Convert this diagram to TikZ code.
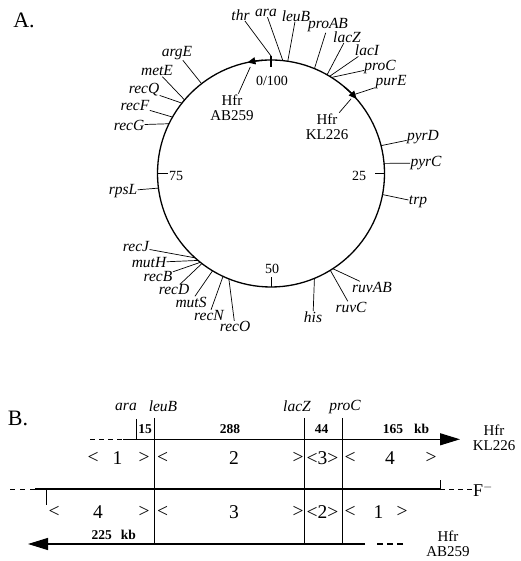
\documentclass[tikz,border=0pt]{standalone}
\usepackage{fontspec}
\setmainfont{Liberation Serif}
\usetikzlibrary{arrows.meta,calc,positioning}
\tikzset{
  gene/.style={font=\fontsize{15.5}{18}\selectfont\itshape,inner sep=0.3pt},
  leader/.style={line width=0.7pt},
  mapnum/.style={font=\fontsize{14}{16}\selectfont,inner sep=1pt},
  hfr/.style={font=\fontsize{15}{15.5}\selectfont,align=center,inner sep=1pt},
  seg/.style={font=\fontsize{19.5}{21}\selectfont,inner sep=0pt},
  kbnum/.style={font=\fontsize{13.5}{14}\selectfont\bfseries,inner sep=1pt},
  panel/.style={font=\fontsize{22}{24}\selectfont,inner sep=0pt},
  strand/.style={line width=1.2pt},
  marker/.style={line width=1.3pt,-{Triangle[length=8pt,width=7pt]}}
}

\begin{document}
\begin{tikzpicture}[x=1pt,y=1pt,>=Latex]
  \useasboundingbox (0,0) rectangle (520,561);
  \def\R{113.5}
  % A: circular map
  \node[panel] (labA) at (24,541) {A.};
  \coordinate (C) at (271,387.5);
  \draw[line width=1.3pt] (C) circle[radius=\R];
  \coordinate (t0in) at ($(C)+(90:\R-7)$);
  \coordinate (t0out) at ($(C)+(90:\R+4)$);
  \draw[line width=2pt] (t0in) -- (t0out);
  \node[mapnum] (n0) at (272,480) {0/100};
  \node[gene] (thr) at (240.5,546) {thr};
  \draw[leader] (thr) -- (t0out);
  \foreach \t/\a/\x/\y in {25/0/359/385,50/-90/272/292,75/180/176/385}{
    \coordinate (t\t) at ($(C)+(\a:\R)$);
    \coordinate (u\t) at ($(C)+(\a:\R-10)$);
    \draw[leader] (t\t) -- (u\t);
    \node[mapnum] (n\t) at (\x,\y) {\t};
  }
  \foreach \g/\a/\x/\y in {ara/84/266/548,leuB/81.5/296/545,proAB/67.5/328/535.5,
      lacZ/60.4/347/524,lacI/58.9/367/510.5,proC/57.8/380/494,purE/43.8/391/478.5,
      pyrD/14.2/423/424,pyrC/5.1/426/398,trp/-10.7/418/359,ruvAB/-57/372/274,
      ruvC/-58.5/351/254,his/-67.5/313/244,recO/-111.8/235/234.5,recN/-115/209/245.5,
      mutS/-121/191/259,recD/-127.5/174/271,recB/-128.5/158/284,mutH/-130/149/298.5,
      recJ/-132/136/314,rpsL/187.4/123/370,recG/154/129/436,recF/150.2/135/455,
      recQ/141.7/144/471,metE/139.6/157/490,argE/127.7/177/508}{
    \coordinate (c-\g) at ($(C)+(\a:\R)$);
    \node[gene] (\g) at (\x,\y) {\g};
    \draw[leader] (c-\g) -- (\g);
  }
  % Hfr origins
  \draw[marker] ($(C)+(94:\R)$) arc[start angle=94,end angle=102,radius=\R];
  \draw[marker] ($(C)+(50:\R)$) arc[start angle=50,end angle=41,radius=\R];
  \coordinate (pAB) at ($(C)+(101:\R-5)$);
  \coordinate (pKL) at ($(C)+(43:\R-4)$);
  \node[hfr] (hfrAB) at (232,453) {Hfr\\AB259};
  \node[hfr] (hfrKL) at (327,434) {Hfr\\KL226};
  \draw[leader] (hfrAB) -- (pAB);
  \draw[leader] (hfrKL) -- (pKL);

  % B: transfer order
  \node[panel] (labB) at (18,143) {B.};
  \node[gene] (bara) at (126,154.3) {ara};
  \node[gene] (bleuB) at (163,154.3) {leuB};
  \node[gene] (blacZ) at (297,154.3) {lacZ};
  \node[gene] (bproC) at (345,154.3) {proC};
  \coordinate (kl0) at (90,121.7);
  \coordinate (kl1) at (123,121.7);
  \coordinate (kl2) at (460,121.7);
  \draw[strand,dash pattern=on 5pt off 4pt] (kl0) -- (kl1);
  \draw[strand,-{Triangle[length=20pt,width=12pt]}] (kl1) -- (kl2);
  \node[hfr] (hfrKLb) at (494,123) {Hfr\\KL226};
  \coordinate (f0) at (10,71.7);
  \coordinate (f1) at (35,71.7);
  \coordinate (f2) at (440,71.7);
  \coordinate (f3) at (472,71.7);
  \draw[line width=1.5pt,dash pattern=on 5pt off 5pt] (f0) -- (f1);
  \draw[line width=2.4pt] (f1) -- (f2);
  \draw[line width=1.5pt,dash pattern=on 5pt off 4pt] (f2) -- (f3);
  \node[font=\fontsize{18}{20}\selectfont,inner sep=1pt] (Fm) at (483,71) {F$^{-}$};
  \coordinate (ab0) at (403,17);
  \coordinate (ab1) at (377,17);
  \coordinate (ab2) at (365,17);
  \coordinate (ab3) at (28,17);
  \draw[strand,dash pattern=on 6pt off 4pt] (ab0) -- (ab1);
  \draw[strand,-{Triangle[length=20pt,width=12pt]}] (ab2) -- (ab3);
  \node[hfr] (hfrABb) at (448,17) {Hfr\\AB259};
  % ticks and cut lines
  \draw[leader] (46,71.7) -- (46,56);
  \draw[leader] (440,71.7) -- (440,81);
  \draw[leader] (136.7,142) -- (136.7,121.7);
  \foreach \x in {154,304.3,342.3}
    \draw[leader] (\x,143) -- (\x,17);
  % sizes in kb
  \foreach \t/\x in {15/145,288/230,44/321.7,165/393,kb/421.7}
    \node[kbnum] (k\t) at (\x,131.7) {\t};
  \node[kbnum] (k225) at (101.7,26) {225};
  \node[kbnum] (kb225) at (128.3,26) {kb};
  % segment order
  \foreach \t/\x [count=\i] in {</93,1/117.5,>/144,</162.5,2/234,>/298,<3>/322.5,</350,4/390,>/431}
    \node[seg] (s1-\i) at (\x,102.7) {\t};
  \foreach \t/\x [count=\i] in {</54,4/98,>/144,</162.5,3/234,>/298,<2>/322.5,</350,1/378.5,>/402}
    \node[seg] (s2-\i) at (\x,49.3) {\t};
\end{tikzpicture}
\end{document}
